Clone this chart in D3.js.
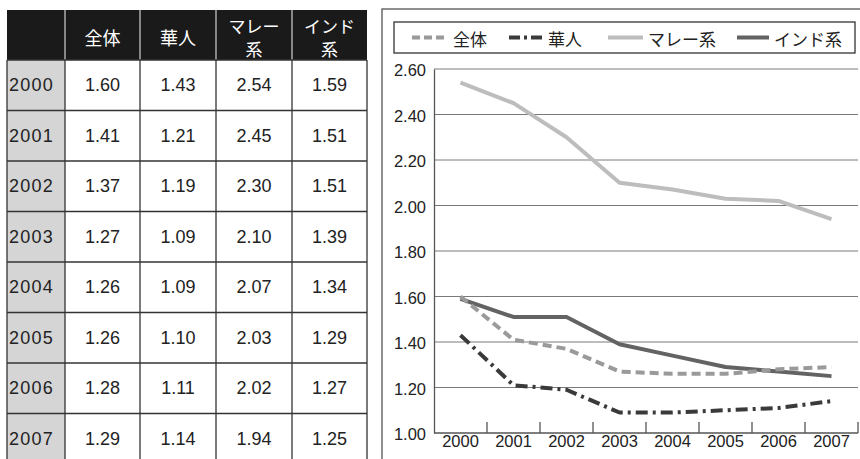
<!DOCTYPE html>
<html>
<head>
<meta charset="utf-8">
<script src="https://cdn.jsdelivr.net/npm/d3@7"></script>
<style>
  html, body { margin: 0; padding: 0; background: #fff; }
  svg { display: block; font-family: "Liberation Sans", Arial, "Noto Sans CJK JP", sans-serif; }
  .jp { font-family: "Noto Sans CJK JP", sans-serif; }
</style>
</head>
<body>
<svg id="root" width="860" height="459"></svg>
<script>
// Total fertility rate in Singapore by ethnic group, 2000-2007
const years = [2000, 2001, 2002, 2003, 2004, 2005, 2006, 2007];
const seriesNames = ["全体", "華人", "マレー系", "インド系"];
const headerLines = [["全体"], ["華人"], ["マレー", "系"], ["インド", "系"]];
const total   = [1.60, 1.41, 1.37, 1.27, 1.26, 1.26, 1.28, 1.29];
const chinese = [1.43, 1.21, 1.19, 1.09, 1.09, 1.10, 1.11, 1.14];
const malay   = [2.54, 2.45, 2.30, 2.10, 2.07, 2.03, 2.02, 1.94];
const indian  = [1.59, 1.51, 1.51, 1.39, 1.34, 1.29, 1.27, 1.25];
const yTicks  = [1.00, 1.20, 1.40, 1.60, 1.80, 2.00, 2.20, 2.40, 2.60];

const values = [total, chinese, malay, indian];
const fmt = d3.format(".2f");
const svg = d3.select("#root");

// ---------- table ----------
const tbl = { x0: 7, y0: 10, headH: 50, rowH: 50.5 };
const colEdges = [7, 65, 140, 216, 292, 367];
const tg = svg.append("g");

// header band
tg.append("rect").attr("x", colEdges[0]).attr("y", tbl.y0)
  .attr("width", colEdges[5] - colEdges[0]).attr("height", tbl.headH).attr("fill", "#1a1a1a");
// year column shading
tg.append("rect").attr("x", colEdges[0]).attr("y", tbl.y0 + tbl.headH)
  .attr("width", colEdges[1] - colEdges[0]).attr("height", years.length * tbl.rowH)
  .attr("fill", "#d5d5d5");

// header separators (light on dark)
tg.selectAll("line.hsep").data(colEdges.slice(1, 5)).join("line")
  .attr("x1", d => d).attr("x2", d => d)
  .attr("y1", tbl.y0).attr("y2", tbl.y0 + tbl.headH)
  .attr("stroke", "#d0d0d0").attr("stroke-width", 1.2);

// header labels
headerLines.forEach((lines, i) => {
  const cx = (colEdges[i + 1] + colEdges[i + 2]) / 2;
  const t = tg.append("text").attr("class", "jp").attr("fill", "#fff")
    .attr("text-anchor", "middle");
  if (lines.length === 1) {
    t.attr("x", cx).attr("y", tbl.y0 + 27).attr("font-size", 18)
      .attr("dominant-baseline", "central").text(lines[0]);
  } else {
    lines.forEach((s, k) => {
      t.append("tspan").attr("x", cx).attr("y", tbl.y0 + 15 + k * 23)
        .attr("font-size", 17).attr("dominant-baseline", "central").text(s);
    });
  }
});

// body grid lines
const bodyTop = tbl.y0 + tbl.headH;
const bodyBottom = bodyTop + years.length * tbl.rowH;
tg.selectAll("line.vsep").data(colEdges).join("line")
  .attr("x1", d => d).attr("x2", d => d)
  .attr("y1", bodyTop).attr("y2", bodyBottom)
  .attr("stroke", "#333").attr("stroke-width", 1.3);
tg.selectAll("line.rsep").data(d3.range(years.length + 1)).join("line")
  .attr("x1", colEdges[0]).attr("x2", colEdges[5])
  .attr("y1", i => bodyTop + i * tbl.rowH).attr("y2", i => bodyTop + i * tbl.rowH)
  .attr("stroke", "#333").attr("stroke-width", 1.3);

// body text
years.forEach((yr, r) => {
  const cy = bodyTop + r * tbl.rowH + tbl.rowH / 2;
  tg.append("text").attr("x", 9).attr("y", cy).attr("dominant-baseline", "central")
    .attr("font-size", 18).attr("letter-spacing", 1.2).attr("fill", "#222").text(yr);
  values.forEach((vals, c) => {
    tg.append("text").attr("x", (colEdges[c + 1] + colEdges[c + 2]) / 2).attr("y", cy)
      .attr("text-anchor", "middle").attr("dominant-baseline", "central")
      .attr("font-size", 18).attr("fill", "#222").text(fmt(vals[c === undefined ? 0 : r]));
  });
});

// ---------- chart ----------
const cg = svg.append("g");
cg.append("rect").attr("x", 382).attr("y", 9).attr("width", 500).attr("height", 500)
  .attr("fill", "none").attr("stroke", "#555").attr("stroke-width", 1.3);

const plot = { left: 434, right: 858, top: 69, bottom: 433 };
const x = d3.scaleBand().domain(years).range([plot.left, plot.right]);
const y = d3.scaleLinear().domain([1.0, 2.6]).range([plot.bottom, plot.top]);

// horizontal gridlines
cg.append("g").selectAll("line").data(yTicks.slice(1)).join("line")
  .attr("x1", plot.left).attr("x2", plot.right)
  .attr("y1", d => y(d)).attr("y2", d => y(d))
  .attr("stroke", "#7a7a7a").attr("stroke-width", 1);

// y axis
const yAxis = d3.axisLeft(y).tickValues(yTicks).tickFormat(fmt).tickSize(0).tickPadding(8);
const yg = cg.append("g").attr("transform", `translate(${plot.left},0)`).call(yAxis);
yg.select(".domain").attr("stroke", "#555").attr("stroke-width", 1.3);
yg.selectAll("text").attr("font-size", 16.5).attr("fill", "#222")
  .attr("font-family", "Liberation Sans, Arial, sans-serif").attr("dy", "0.4em");

// x axis: ticks at band boundaries pointing up
const xg = cg.append("g").attr("transform", `translate(0,${plot.bottom})`);
xg.append("line").attr("x1", plot.left).attr("x2", plot.right).attr("y1", 0).attr("y2", 0)
  .attr("stroke", "#555").attr("stroke-width", 1.3);
xg.selectAll("line.tk").data(years).join("line").attr("class", "tk")
  .attr("x1", d => x(d) + x.bandwidth()).attr("x2", d => x(d) + x.bandwidth())
  .attr("y1", 0).attr("y2", -11).attr("stroke", "#555").attr("stroke-width", 1.3);
xg.selectAll("text").data(years).join("text")
  .attr("x", d => x(d) + x.bandwidth() / 2).attr("y", 14)
  .attr("text-anchor", "middle").attr("font-size", 16.5).attr("fill", "#222").text(d => d);

// series lines
const styles = [
  { color: "#9a9a9a", dash: "9,5" },
  { color: "#3a3a3a", dash: "12,5,3,5" },
  { color: "#bdbdbd", dash: null },
  { color: "#636363", dash: null }
];
const line = d3.line().x((d, i) => x(years[i]) + x.bandwidth() / 2).y(d => y(d));
const drawOrder = [2, 3, 0, 1];
drawOrder.forEach(k => {
  cg.append("path").datum(values[k]).attr("d", line)
    .attr("fill", "none").attr("stroke", styles[k].color).attr("stroke-width", 4)
    .attr("stroke-dasharray", styles[k].dash).attr("stroke-linejoin", "round");
});

// legend
const lg = cg.append("g");
lg.append("rect").attr("x", 394).attr("y", 22).attr("width", 461).attr("height", 31)
  .attr("fill", "#fff").attr("stroke", "#333").attr("stroke-width", 1.3);
const legendX = [412, 509, 608, 737];
const legendW = [36, 34, 35, 32];
seriesNames.forEach((name, k) => {
  lg.append("line").attr("x1", legendX[k]).attr("x2", legendX[k] + legendW[k])
    .attr("y1", 37.5).attr("y2", 37.5)
    .attr("stroke", styles[k].color).attr("stroke-width", 4)
    .attr("stroke-dasharray", k === 1 ? "11,4,3,4" : (k === 0 ? "8,4" : null));
  lg.append("text").attr("class", "jp").attr("x", legendX[k] + legendW[k] + 5).attr("y", 38)
    .attr("dominant-baseline", "central").attr("font-size", 17).attr("fill", "#222").text(name);
});
</script>
</body>
</html>
